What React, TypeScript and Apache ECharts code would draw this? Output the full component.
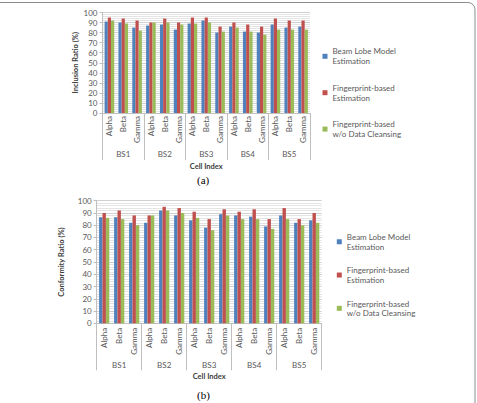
import React, { useEffect, useRef } from "react";
import * as echarts from "echarts";

const cellNames = ["Alpha", "Beta", "Gamma"];
const stations = ["BS1", "BS2", "BS3", "BS4", "BS5"];
const cells = stations.flatMap(() => cellNames);
const seriesNames = [
  "Beam Lobe Model Estimation",
  "Fingerprint-based Estimation",
  "Fingerprint-based w/o Data Cleansing",
];
const legendLabels = [
  "Beam Lobe Model\nEstimation",
  "Fingerprint-based\nEstimation",
  "Fingerprint-based\nw/o Data Cleansing",
];
const colors = ["#4F81BD", "#C0504D", "#9BBB59"];

// (a) Inclusion Ratio (%)
const inclBeam = [91, 90, 85, 87, 88, 83, 89, 92, 80, 86, 81, 80, 88, 85, 86];
const inclFp = [95, 94, 92, 90, 94, 90, 95, 95, 86, 90, 88, 86, 94, 92, 92];
const inclFpNoClean = [92, 89, 82, 90, 90, 88, 89, 90, 81, 85, 81, 78, 83, 83, 83];

// (b) Conformity Ratio (%)
const confBeam = [86.5, 86.5, 82, 82, 92, 88, 84, 78, 89, 88, 87, 79, 88, 82, 84];
const confFp = [90, 92, 88, 88, 95, 94, 91, 85, 93, 91, 93, 85, 94, 85, 90];
const confFpNoClean = [86, 85, 80, 88, 92, 90, 86, 76, 88, 85, 85, 77, 85, 80, 82];

const FONT = "Lato, 'Liberation Sans', sans-serif";
const TXT = "#595959";
const AXIS = "#BFBFBF";

function yAxis(gridIndex: number, name: string, nameGap: number) {
  return {
    type: "value",
    gridIndex,
    min: 0,
    max: 100,
    interval: 10,
    name,
    nameLocation: "middle",
    nameGap,
    nameRotate: 90,
    nameTextStyle: { fontFamily: FONT, fontSize: 7.5, fontWeight: "bold", color: "#404040" },
    axisLine: { show: true, lineStyle: { color: AXIS, width: 1 } },
    axisTick: { show: true, length: 3, lineStyle: { color: AXIS } },
    axisLabel: { fontFamily: FONT, fontSize: 8, color: TXT, margin: 5 },
    splitLine: { show: true, lineStyle: { color: "#D0D0D0", width: 1 } },
    minorTick: { show: false, splitNumber: 5 },
    minorSplitLine: { show: true, lineStyle: { color: "#E4E4E4", width: 1 } },
  };
}

function cellAxis(gridIndex: number, margin: number) {
  return {
    type: "category",
    gridIndex,
    data: cells,
    position: "bottom",
    axisLine: { show: true, lineStyle: { color: AXIS, width: 1 } },
    axisTick: { show: false },
    axisLabel: { interval: 0, rotate: 90, fontFamily: FONT, fontSize: 8, color: TXT, margin },
    splitLine: { show: false },
  };
}

function stationAxis(gridIndex: number, labelMargin: number, tickLen: number, nameGap: number) {
  return {
    type: "category",
    gridIndex,
    data: stations,
    position: "bottom",
    offset: 0,
    name: "Cell Index",
    nameLocation: "middle",
    nameGap,
    nameTextStyle: { fontFamily: FONT, fontSize: 7.5, fontWeight: "bold", color: "#404040" },
    axisLine: { show: false },
    axisTick: { show: true, interval: 0, length: tickLen, lineStyle: { color: AXIS, width: 1 } },
    axisLabel: { interval: 0, fontFamily: FONT, fontSize: 8, color: TXT, margin: labelMargin },
    splitLine: { show: false },
  };
}

function bars(xAxisIndex: number, yAxisIndex: number, data: number[][], width: number) {
  return data.map((d, i) => ({
    type: "bar",
    name: seriesNames[i],
    xAxisIndex,
    yAxisIndex,
    data: d,
    barWidth: width,
    barGap: "0%",
    itemStyle: { color: colors[i] },
  }));
}

function legend(left: number, top: number, lh: number, gap: number) {
  return {
    orient: "vertical",
    left,
    top,
    padding: 0,
    itemWidth: 5,
    itemHeight: 5,
    itemGap: gap,
    icon: "rect",
    selectedMode: false,
    data: seriesNames,
    formatter: (n: string) => legendLabels[seriesNames.indexOf(n)],
    textStyle: {
      fontFamily: FONT,
      fontSize: 8,
      color: TXT,
      lineHeight: lh,
      padding: [lh, 0, 0, 0],
    },
  };
}

export default function App() {
  const ref = useRef<HTMLDivElement>(null);
  useEffect(() => {
    if (!ref.current) return;
    const chart = echarts.init(ref.current, undefined, { renderer: "svg" });
    chart.setOption({
      animation: false,
      backgroundColor: "#ffffff",
      grid: [
        { left: 102.5, top: 12.5, width: 207.5, height: 100.5, containLabel: false },
        { left: 96.7, top: 200.7, width: 225, height: 122.6, containLabel: false },
      ],
      xAxis: [
        cellAxis(0, 3),
        stationAxis(0, 37, 47, 49),
        cellAxis(1, 4.5),
        stationAxis(1, 37.5, 47, 49),
      ],
      yAxis: [yAxis(0, "Inclusion Ratio (%)", 20), yAxis(1, "Conformity Ratio (%)", 31.5)],
      legend: [legend(322.5, 41.3, 10, 6.4), legend(336.8, 227.5, 9.5, 4.8)],
      series: [
        ...bars(0, 0, [inclBeam, inclFp, inclFpNoClean], 3.2),
        ...bars(2, 1, [confBeam, confFp, confFpNoClean], 3.4),
      ],
      graphic: [
        {
          type: "rect",
          silent: true,
          shape: { x: -10, y: 2.5, width: 485, height: 420, r: 7 },
          style: { fill: "none", stroke: "#8C8C8C", lineWidth: 1 },
        },
        {
          type: "text",
          left: 197,
          top: 174,
          style: { text: "(a)", font: "11px 'Liberation Serif', serif", fill: "#000000" },
        },
        {
          type: "text",
          left: 197,
          top: 389,
          style: { text: "(b)", font: "11px 'Liberation Serif', serif", fill: "#000000" },
        },
      ],
    });
    return () => chart.dispose();
  }, []);
  return (
    <div
      ref={ref}
      style={{ position: "absolute", left: 0, top: 0, width: 477, height: 403 }}
    />
  );
}
